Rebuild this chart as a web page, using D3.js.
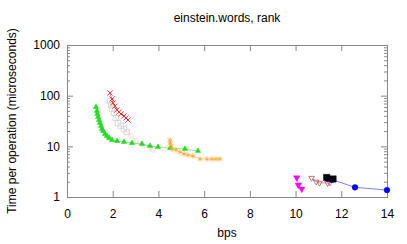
<!DOCTYPE html>
<html>
<head>
<meta charset="utf-8">
<script src="https://cdn.jsdelivr.net/npm/d3@7"></script>
<style>
  body { margin: 0; background: #fff; }
  text { font-family: "Liberation Sans", Arial, sans-serif; }
</style>
</head>
<body>
<div id="chart"></div>
<script>
// series values: [bps, microseconds]
const redCross = [[1.88,113],[1.97,86],[2.01,72],[2.10,62],[2.19,52],[2.28,47.6],[2.36,43.5],[2.49,39.7],[2.58,36.3],[2.67,33]];
const graySquare = [[1.88,78],[1.93,65],[1.97,54.5],[2.06,45.5],[2.14,36.3],[2.23,28.9],[2.36,25.2],[2.49,22],[2.62,19.2]];
const pinkCircle = [[2.62,19.2],[2.80,16],[3.02,12.7],[3.28,11.1],[3.63,9.7],[3.76,8.5]];
const greenTri = [[1.27,59.6],[1.31,49.8],[1.33,43.5],[1.36,37.9],[1.40,33],[1.44,28.9],[1.49,25.2],[1.53,22],[1.58,20.1],[1.66,17.5],[1.75,16],[1.84,14.6],[1.97,13.3],[2.19,12.7],[2.49,12.2],[2.84,11.6],[3.28,11.1],[3.63,10.2],[3.98,9.7],[4.51,9.27],[5.16,8.85],[5.73,8.09]];
const orangeStar = [[4.51,13.3],[4.51,11.6],[4.55,10.2],[4.59,8.85],[4.77,8.45],[4.94,7.73],[5.12,7.06],[5.29,6.74],[5.51,6.44],[5.82,5.62],[6.13,5.62],[6.34,5.62],[6.52,5.62],[6.69,5.62]];
const magentaTri = [[10.05,2.4],[10.12,1.73],[10.27,1.44]];
const brownTri = [[10.7,2.37],[10.9,2.0],[11.05,1.9],[11.4,1.88],[11.5,1.92]];
const blueCircle = [[11.4,2.3],[11.6,2.2],[12.6,1.55],[14.0,1.37]];
const blackSquare = [[11.36,2.43],[11.64,2.27]];

const xTicks = [0, 2, 4, 6, 8, 10, 12, 14];
const yTicks = [1, 10, 100, 1000];

const W = 407, H = 244;
const margin = { top: 45, right: 20, bottom: 47, left: 67 };

const svg = d3.select("#chart").append("svg")
  .attr("width", W).attr("height", H);

const x = d3.scaleLinear().domain([0, 14]).range([margin.left, W - margin.right]);
const y = d3.scaleLog().domain([1, 1000]).range([H - margin.bottom, margin.top]);

const minorY = [];
[1, 10, 100].forEach(d => { for (let k = 2; k < 10; k++) minorY.push(d * k); });

const axisColor = "#888";

function styleAxis(g) {
  g.select(".domain").remove();
  g.selectAll("line").attr("stroke", axisColor);
  g.selectAll("text").attr("fill", "#000").style("font-size", "12px")
    .style("font-family", "'Liberation Sans', Arial, sans-serif");
}

// bottom / top
svg.append("g").attr("transform", `translate(0,${y(1)})`)
  .call(d3.axisBottom(x).tickValues(xTicks).tickSize(-6).tickPadding(12).tickFormat(d3.format("d")))
  .call(styleAxis);
svg.append("g").attr("transform", `translate(0,${y(1000)})`)
  .call(d3.axisTop(x).tickValues(xTicks.slice(1, -1)).tickSize(-6).tickFormat(""))
  .call(styleAxis);

// left / right
svg.append("g").attr("transform", `translate(${x(0)},0)`)
  .call(d3.axisLeft(y).tickValues(yTicks).tickSize(-6).tickPadding(7).tickFormat(d3.format("d")))
  .call(styleAxis);
svg.append("g").attr("transform", `translate(${x(0)},0)`)
  .call(d3.axisLeft(y).tickValues(minorY).tickSize(-3).tickFormat(""))
  .call(styleAxis);
svg.append("g").attr("transform", `translate(${x(14)},0)`)
  .call(d3.axisRight(y).tickValues(yTicks.slice(1, -1)).tickSize(-6).tickFormat(""))
  .call(styleAxis);
svg.append("g").attr("transform", `translate(${x(14)},0)`)
  .call(d3.axisRight(y).tickValues(minorY).tickSize(-3).tickFormat(""))
  .call(styleAxis);

// border
svg.append("rect")
  .attr("x", x(0) + 0.5).attr("y", y(1000) + 0.5)
  .attr("width", x(14) - x(0)).attr("height", y(1) - y(1000))
  .attr("fill", "none").attr("stroke", axisColor);

// titles
svg.append("text").attr("x", (x(0) + x(14)) / 2).attr("y", 22)
  .attr("text-anchor", "middle").style("font-size", "12px").text("einstein.words, rank");
svg.append("text").attr("x", (x(0) + x(14)) / 2).attr("y", 237)
  .attr("text-anchor", "middle").style("font-size", "12px").text("bps");
svg.append("text")
  .attr("transform", `translate(16,${(y(1) + y(1000)) / 2}) rotate(-90)`)
  .attr("text-anchor", "middle").style("font-size", "12px")
  .text("Time per operation (microseconds)");

const line = d3.line().x(d => x(d[0])).y(d => y(d[1]));

const series = [
  { data: graySquare, color: "#cccccc", sym: d3.symbolSquare, size: 30, fill: false },
  { data: pinkCircle, color: "#ffc8d0", sym: d3.symbolCircle, size: 18, fill: false },
  { data: redCross, color: "#ff0000", sym: d3.symbolTimes, size: 20, fill: false },
  { data: greenTri, color: "#22dd22", sym: d3.symbolTriangle, size: 13, fill: true },
  { data: orangeStar, color: "#ffa020", sym: d3.symbolAsterisk, size: 22, fill: false },
  { data: magentaTri, color: "#ff00ff", sym: d3.symbolTriangle, size: 18, fill: true, flip: true },
  { data: brownTri, color: "#a84848", sym: d3.symbolTriangle, size: 14, fill: false, flip: true },
  { data: blueCircle, color: "#0000ff", sym: d3.symbolCircle, size: 26, fill: true },
  { data: blackSquare, color: "#000000", sym: d3.symbolSquare, size: 40, fill: true }
];

series.forEach(s => {
  svg.append("path").datum(s.data)
    .attr("d", line).attr("fill", "none")
    .attr("stroke", s.color).attr("stroke-opacity", 0.5).attr("stroke-width", 1);
  svg.append("g").selectAll("path").data(s.data).join("path")
    .attr("transform", d => `translate(${x(d[0])},${y(d[1])})${s.flip ? " rotate(180)" : ""}`)
    .attr("d", d3.symbol().type(s.sym).size(s.size))
    .attr("fill", s.fill ? s.color : "none")
    .attr("stroke", s.color)
    .attr("stroke-opacity", s.fill ? 0.6 : 0.9)
    .attr("stroke-width", 0.8);
});
</script>
</body>
</html>
